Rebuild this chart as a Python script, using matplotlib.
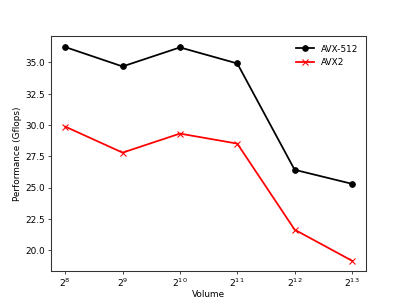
import matplotlib
matplotlib.use("Agg")
import matplotlib.pyplot as plt

volume = [2**8, 2**9, 2**10, 2**11, 2**12, 2**13]
avx512 = [36.23, 34.68, 36.2, 34.92, 26.43, 25.31]
avx2 = [29.88, 27.8, 29.32, 28.52, 21.65, 19.17]

plt.rcParams['axes.linewidth'] = 1.2
plt.rcParams['axes.edgecolor'] = '#333333'

fig, ax = plt.subplots(figsize=(6.4, 4.8), dpi=63.6)
ax.plot(volume, avx512, color='k', marker='o', lw=2, ms=6.5, label='AVX-512')
ax.plot(volume, avx2, color='r', marker='x', lw=2, ms=6.5, mew=1.2, label='AVX2')
ax.set_xscale('log', base=2)
ax.set_xticks(volume)
ax.minorticks_off()
ax.tick_params(axis='x', labelsize=10.5, pad=2)
ax.set_xlabel('Volume', labelpad=1)
ax.set_ylabel('Performance (Gflops)')
ax.legend(frameon=False, loc='upper right')
fig.savefig('out.png', dpi=63.6)
